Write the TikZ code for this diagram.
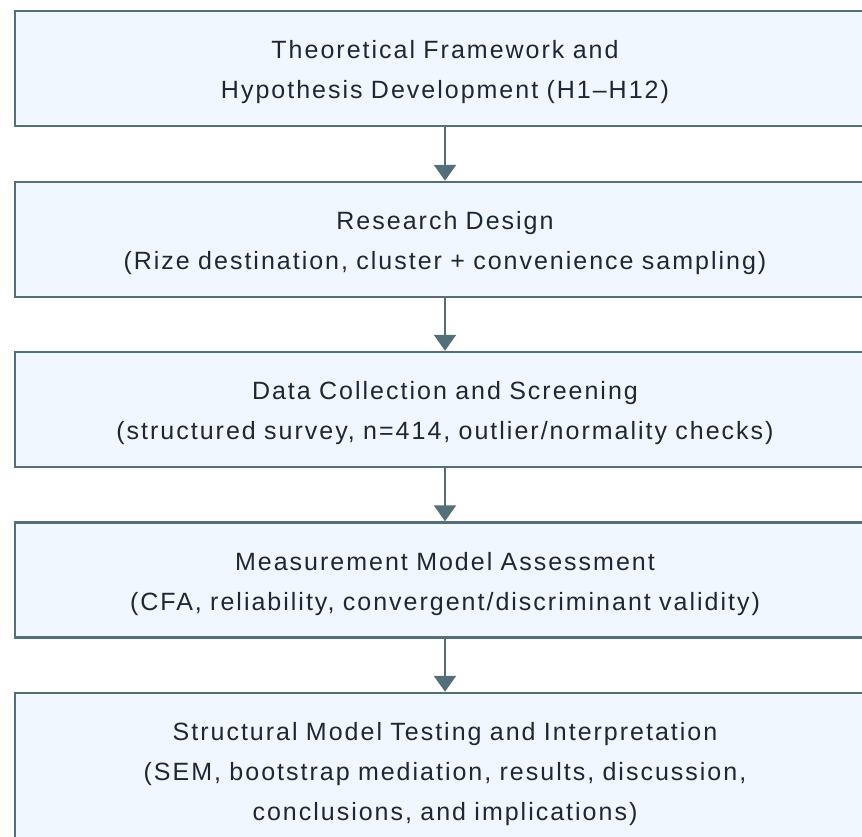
\documentclass[tikz,border=0pt]{standalone}
\usepackage{fontspec}
\setmainfont[LetterSpace=8]{Liberation Sans}
\usetikzlibrary{arrows.meta}
\definecolor{bordc}{HTML}{546E7A}
\definecolor{fillc}{HTML}{F0F7FE}
\definecolor{txtc}{HTML}{1C2833}
\begin{document}
\begin{tikzpicture}[x=1pt,y=-1pt,
  box/.style={draw=bordc, line width=2.5pt, fill=fillc, minimum width=860pt, inner sep=0pt},
  boxtext/.style={text width=840pt, align=center, inner sep=0pt,
    font=\fontsize{25}{40}\selectfont, text=txtc},
  conn/.style={draw=bordc, line width=2.5pt, -{Triangle[width=22pt,length=16pt]}}]
\useasboundingbox (0,0) rectangle (862,836);
\clip (0,0) rectangle (862,836);
\node[box, minimum height=115pt] (b1) at (445,68.5) {};
\node[box, minimum height=115pt] (b2) at (445,239.5) {};
\node[box, minimum height=115pt] (b3) at (445,409.5) {};
\node[box, minimum height=115pt] (b4) at (445,580) {};
\node[box, minimum height=155pt] (b5) at (445,770.5) {};
\node[boxtext] (t1) at ([yshift=-4pt]b1.center) {Theoretical Framework and\\Hypothesis Development (H1–H12)};
\node[boxtext] (t2) at ([yshift=-4pt]b2.center) {Research Design\\(Rize destination, cluster + convenience sampling)};
\node[boxtext] (t3) at ([yshift=-4pt]b3.center) {Data Collection and Screening\\(structured survey, n=414, outlier/normality checks)};
\node[boxtext] (t4) at ([yshift=-4pt]b4.center) {Measurement Model Assessment\\(CFA, reliability, convergent/discriminant validity)};
\node[boxtext] (t5) at ([yshift=-4pt]b5.center) {Structural Model Testing and Interpretation\\(SEM, bootstrap mediation, results, discussion,\\conclusions, and implications)};
\draw[conn] (b1.south) -- (b2.north);
\draw[conn] (b2.south) -- (b3.north);
\draw[conn] (b3.south) -- (b4.north);
\draw[conn] (b4.south) -- (b5.north);
\end{tikzpicture}
\end{document}
